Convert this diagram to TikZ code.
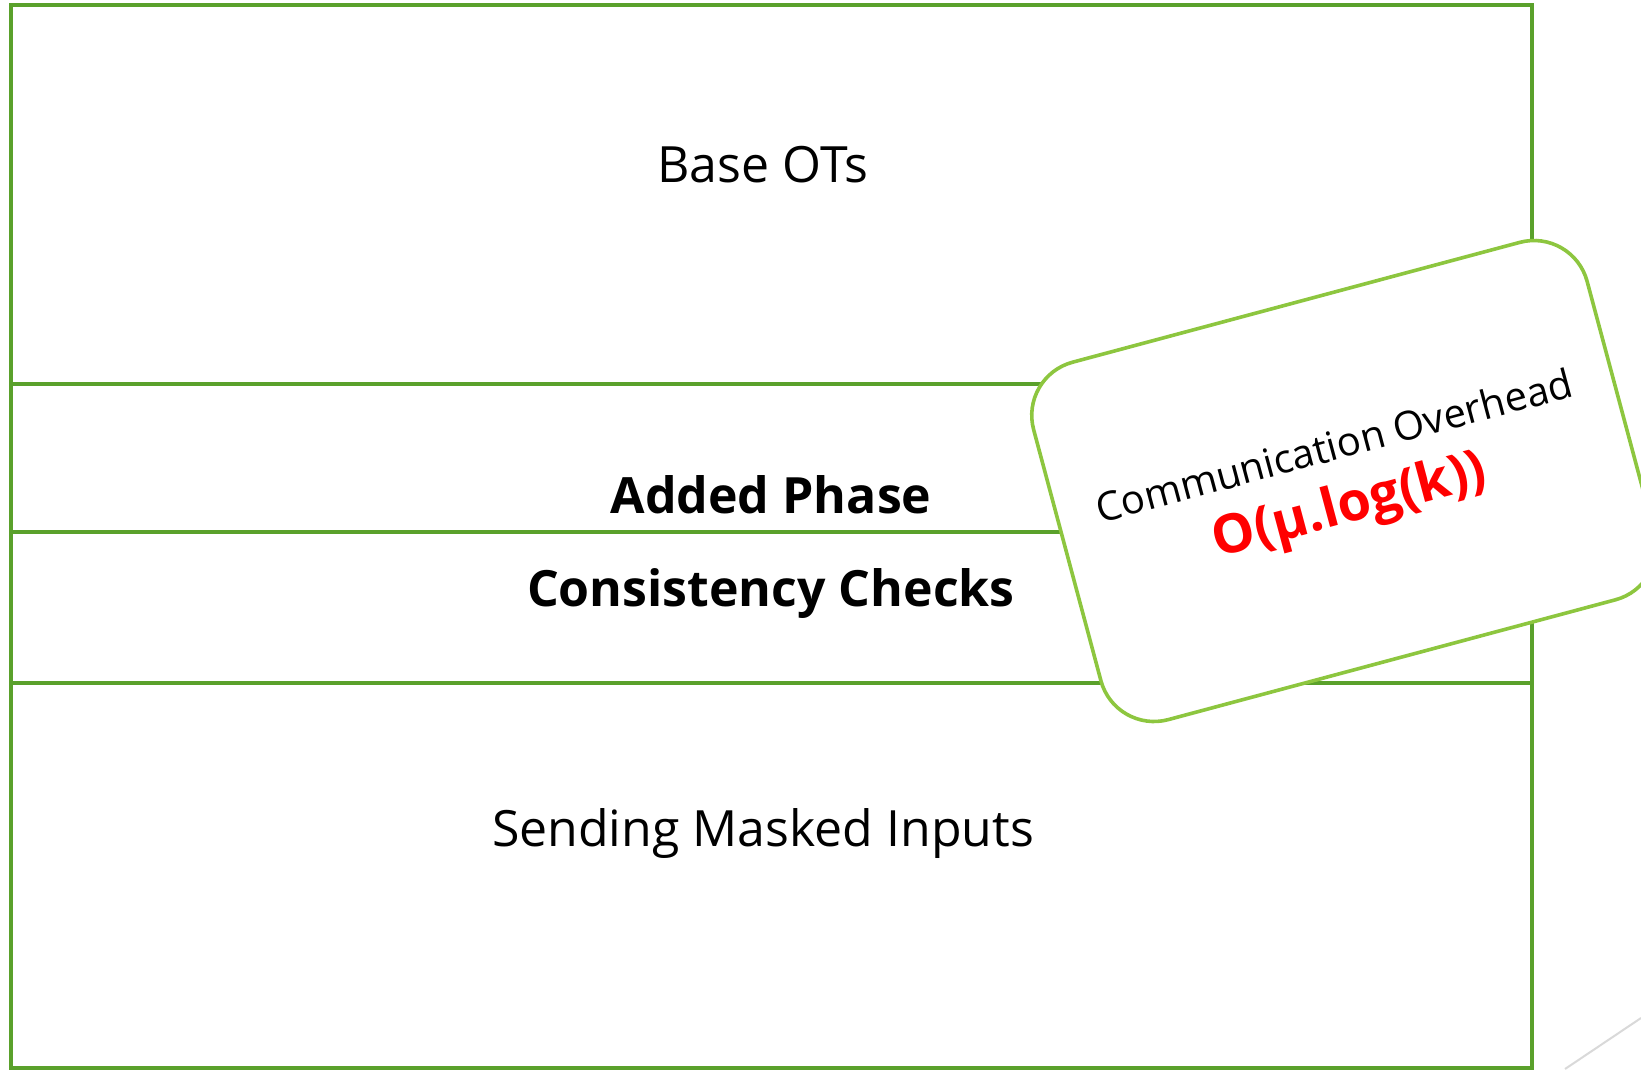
\documentclass[tikz,border=0pt]{standalone}
\usepackage{fontspec}
\setmainfont{Open Sans}
\definecolor{framegreen}{HTML}{5AA12B}
\definecolor{boxgreen}{HTML}{8DC63F}
\definecolor{thinline}{HTML}{D9D9D9}
\tikzset{
  frameline/.style={draw=framegreen, line width=3.6pt},
  phasetext/.style={inner sep=0pt, font=\fontsize{50}{60}\selectfont},
  boldphase/.style={phasetext, font=\fontsize{50}{60}\selectfont\bfseries},
  overheadbox/.style={draw=boxgreen, fill=white, line width=3.6pt,
    rounded corners=55pt, minimum width=573pt, minimum height=370pt,
    rotate=15, inner sep=0pt},
  overheadlabel/.style={inner sep=0pt, rotate=15, font=\fontsize{40}{48}\selectfont},
  costlabel/.style={inner sep=0pt, rotate=15, text=red, font=\fontsize{54}{64}\selectfont\bfseries}
}
\begin{document}
\begin{tikzpicture}[x=1pt, y=-1pt]
  \useasboundingbox (0,0) rectangle (1641,1069);
  % stacked protocol phases
  \coordinate (tl) at (11,5);
  \coordinate (br) at (1532,1068);
  \draw[frameline] (tl) rectangle (br);
  \coordinate (s1l) at (11,384);  \coordinate (s1r) at (1532,384);
  \coordinate (s2l) at (11,532);  \coordinate (s2r) at (1532,532);
  \coordinate (s3l) at (11,683);  \coordinate (s3r) at (1534,683);
  \draw[frameline] (s1l) -- (s1r);
  \draw[frameline] (s2l) -- (s2r);
  \draw[frameline] (s3l) -- (s3r);

  \node[phasetext] (base) at (763,165) {Base OTs};
  \node[boldphase] (added) at (771,495) {Added Phase};
  \node[boldphase] (checks) at (771,594) {Consistency Checks};
  \node[phasetext] (masked) at (763,833) {Sending Masked Inputs};

  % tilted callout with the cost of the added phase
  \node[overheadbox] (ovh) at (1344,481) {};
  \node[overheadlabel] (ovhtext) at (1334,445) {Communication Overhead};
  \node[costlabel] (cost) at (1350,508) {O(μ.log(k))};

  % faint diagonal stroke in the lower right corner
  \coordinate (d1) at (1565,1069);
  \coordinate (d2) at (1641,1018);
  \draw[thinline, line width=2pt] (d1) -- (d2);
\end{tikzpicture}
\end{document}
